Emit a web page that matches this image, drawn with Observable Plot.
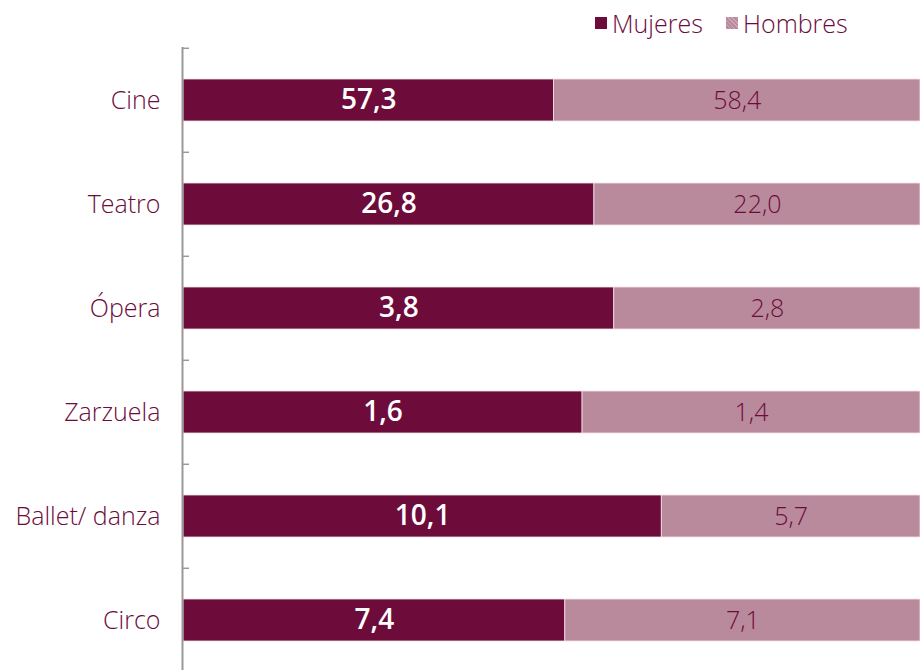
<!DOCTYPE html>
<html><head><meta charset="utf-8">
<script src="https://cdn.jsdelivr.net/npm/d3@7"></script>
<script src="https://cdn.jsdelivr.net/npm/@observablehq/plot@0.6"></script>
<style>
html,body{margin:0;padding:0;width:920px;height:670px;overflow:hidden;background:#fff;font-family:"Open Sans",Lato,sans-serif;}
#legend{position:relative;height:40px;color:#6d0b3b;font-size:25px;font-weight:300;}
#legend .sw{position:absolute;top:17px;width:12px;height:12px;}
#legend .lb{position:absolute;top:7px;line-height:32px;}
</style></head><body>
<div id="legend"></div>
<div id="chart"></div>
<script>
const categories = ["Cine", "Teatro", "Ópera", "Zarzuela", "Ballet/ danza", "Circo"];
const mujeres = [57.3, 26.8, 3.8, 1.6, 10.1, 7.4];
const hombres = [58.4, 22.0, 2.8, 1.4, 5.7, 7.1];
const seriesNames = ["Mujeres", "Hombres"];
const colors = ["#6d0b3b", "#b98a9c"];

const fmt = v => d3.format(".1f")(v).replace(".", ",");
const rows = categories.map((c, i) => ({
  cat: c, m: mujeres[i], h: hombres[i],
  share: mujeres[i] / (mujeres[i] + hombres[i])
}));
const xMax = 0.985; // visible part of the 100% bar (chart is cropped on the right)
const step = 104.4;

const legend = document.getElementById("legend");
legend.innerHTML = `
  <div class="sw" style="left:595px;background:${colors[0]}"></div>
  <div class="lb" style="left:612px">${seriesNames[0]}</div>
  <div class="sw" style="left:726px;background:${colors[1]};background-image:repeating-linear-gradient(45deg,rgba(255,255,255,0.25) 0 1px,transparent 1px 3px)"></div>
  <div class="lb" style="left:743px">${seriesNames[1]}</div>`;

const plot = Plot.plot({
  width: 920,
  height: 634,
  marginLeft: 183,
  marginRight: 0,
  marginTop: 7,
  marginBottom: 1,
  style: {fontFamily: "'Open Sans', Lato, sans-serif", overflow: "visible"},
  x: {domain: [0, xMax], clamp: true, axis: null},
  y: {domain: categories, paddingInner: 0.6, paddingOuter: 0.3, axis: null},
  marks: [
    Plot.barX(rows, {y: "cat", x1: 0, x2: "share", fill: colors[0], stroke: "#f3e3ea", strokeWidth: 0.8}),
    Plot.barX(rows, {y: "cat", x1: "share", x2: 1, fill: colors[1], stroke: "#f3e3ea", strokeWidth: 0.8}),
    Plot.text(rows, {y: "cat", x: d => d.share / 2, text: d => fmt(d.m), fill: "white", fontWeight: 600, fontSize: 28}),
    Plot.text(rows, {y: "cat", x: d => (d.share + xMax) / 2, text: d => fmt(d.h), fill: colors[0], fontSize: 25, fontWeight: 300}),
    Plot.text(rows, {y: "cat", x: 0, dx: -23, text: "cat", textAnchor: "end", fill: colors[0], fontSize: 25, fontWeight: 300}),
    Plot.ruleY(categories, {y: d => d, x1: 0, x2: 0.008, dy: -step / 2, stroke: "#999", strokeWidth: 1.5}),
    Plot.ruleY([categories[categories.length - 1]], {y: d => d, x1: 0, x2: 0.008, dy: step / 2, stroke: "#999", strokeWidth: 1.5}),
    Plot.ruleX([0], {stroke: "#999", strokeWidth: 2, dx: -1})
  ]
});
document.getElementById("chart").appendChild(plot);
</script>
</body></html>
